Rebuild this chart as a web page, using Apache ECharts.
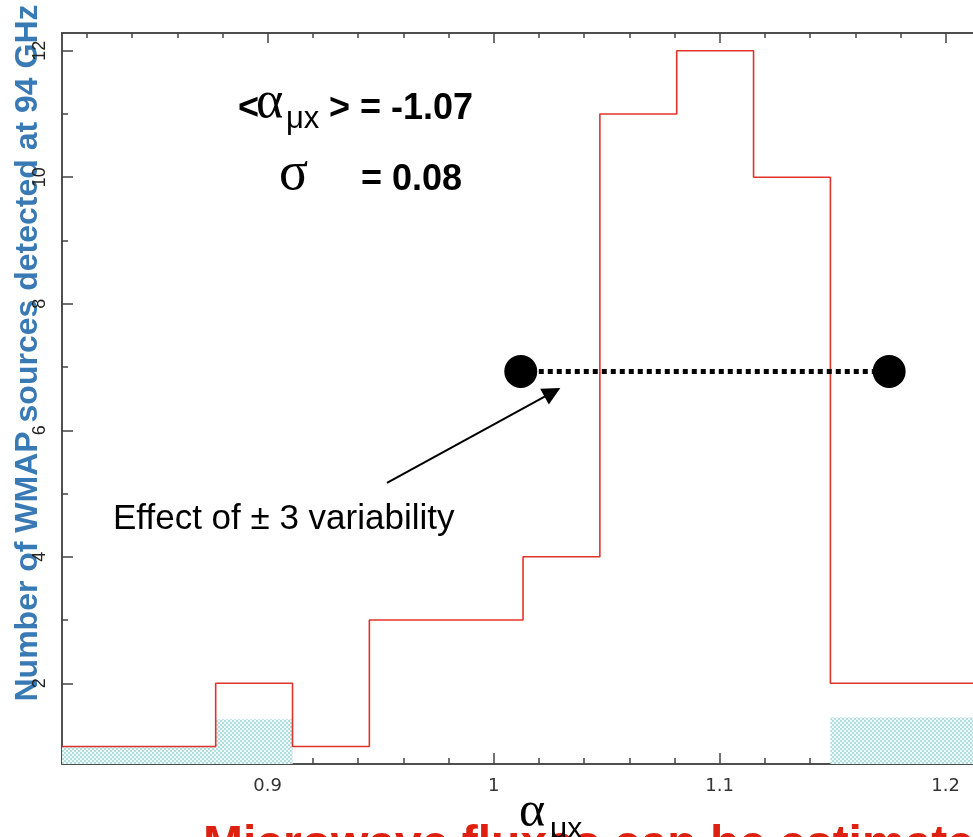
<!DOCTYPE html>
<html>
<head>
<meta charset="utf-8">
<script src="https://cdn.jsdelivr.net/npm/echarts@6/dist/echarts.min.js"></script>
<style>
html,body{margin:0;padding:0;background:#fff;}
#chart{width:973px;height:837px;}
</style>
</head>
<body>
<div id="chart"></div>
<script>
// ---- data ----
const binEdges = [0.809, 0.843, 0.877, 0.911, 0.945, 0.979, 1.013, 1.047, 1.081, 1.115, 1.149, 1.183, 1.217];
const counts   = [1, 1, 2, 1, 3, 3, 4, 11, 12, 10, 2, 2];
const hatchLo     = [0.809, 0.877, 1.149];
const hatchHi     = [0.877, 0.911, 1.217];
const hatchCounts = [1, 1.43, 1.46];
const variabilityX = [1.012, 1.175];
const variabilityY = [6.93, 6.93];
const arrowFrom = [0.9528, 5.17];
const arrowTo   = [1.026, 6.60];
const xMajorTicks = [0.9, 1.0, 1.1, 1.2];
const xMinorTicks = [0.82, 0.84, 0.86, 0.88, 0.92, 0.94, 0.96, 0.98, 1.02, 1.04, 1.06, 1.08, 1.12, 1.14, 1.16, 1.18];
const yMajorTicks = [2, 4, 6, 8, 10, 12];
const yMinorTicks = [1, 3, 5, 7, 9, 11];
const X_MIN = 0.809, X_MAX = 1.2121, Y_MIN = 0.724, Y_MAX = 12.28;
const yTitle = 'Number of WMAP sources detected at 94 GHz';
const bottomTitle = 'Microwave fluxes can be estimated';
const effectText = 'Effect of \u00b1 3 variability';

// ---- pattern ----
const pc = document.createElement('canvas');
pc.width = 4; pc.height = 4;
const g = pc.getContext('2d');
g.fillStyle = '#eef8f8'; g.fillRect(0,0,4,4);
g.fillStyle = '#b0dede'; g.fillRect(0,0,2,2); g.fillRect(2,2,2,2);
const pattern = {image: pc, repeat: 'repeat'};

const histData = binEdges.map((e,i) => [e, i < counts.length ? counts[i] : counts[counts.length-1]]);
const hatchData = hatchLo.map((lo,i) => [lo, hatchHi[i], hatchCounts[i]]);
const dotData = variabilityX.map((x,i) => [x, variabilityY[i]]);

const axisCol = '#444';
const tickFont = '"DejaVu Sans", sans-serif';
function xAx(pos, ticks, len, labels) {
  return {
    type: 'value', position: pos, min: X_MIN, max: X_MAX, gridIndex: 0,
    axisLine: {show: true, onZero: false, lineStyle: {color: axisCol, width: 1.5}},
    axisTick: {show: true, inside: true, length: len, customValues: ticks, lineStyle: {color: axisCol, width: 1.5}},
    axisLabel: labels ? {show: true, customValues: labels, margin: 13, color: '#333', fontSize: 18, fontFamily: tickFont} : {show: false},
    splitLine: {show: false}
  };
}
function yAx(ticks, len, labels) {
  return {
    type: 'value', position: 'left', min: Y_MIN, max: Y_MAX, gridIndex: 0,
    axisLine: {show: true, onZero: false, lineStyle: {color: axisCol, width: 1.5}},
    axisTick: {show: true, inside: true, length: len, customValues: ticks, lineStyle: {color: axisCol, width: 1.5}},
    axisLabel: labels ? {show: true, customValues: labels, rotate: 90, margin: 13, color: '#222', fontSize: 18, fontFamily: '"Liberation Sans Narrow", "Liberation Sans", sans-serif'} : {show: false},
    splitLine: {show: false}
  };
}
// text helper: place by approximate baseline
function txt(str, x, baseline, size, family, weight, fill, z, ratio) {
  return {type: 'text', x: x, y: baseline - ratio * size, z: z,
    style: {text: str, font: (weight ? weight + ' ' : '') + size + 'px ' + family, fill: fill, align: 'left', verticalAlign: 'middle'}};
}
const SANS = '"Liberation Sans", Arial, sans-serif';
const SERIF = '"Liberation Serif", "Times New Roman", serif';
const RS = 0.2, RR = 0.2;

const chart = echarts.init(document.getElementById('chart'), null, {renderer: 'canvas'});
chart.setOption({
  animation: false,
  backgroundColor: '#fff',
  grid: {left: 62, top: 33, right: 0, bottom: 73, containLabel: false},
  xAxis: [
    xAx('bottom', xMajorTicks, 11, xMajorTicks),
    xAx('bottom', xMinorTicks, 6, null),
    xAx('top', xMajorTicks, 10, null),
    xAx('top', xMinorTicks, 5, null)
  ],
  yAxis: [
    yAx(yMajorTicks, 11, yMajorTicks),
    yAx(yMinorTicks, 6, null)
  ],
  series: [
    {
      type: 'custom', xAxisIndex: 0, yAxisIndex: 0, z: 1,
      data: hatchData,
      encode: {x: [0,1], y: 2},
      renderItem: function(params, api) {
        const p0 = api.coord([api.value(0), api.value(2)]);
        const p1 = api.coord([api.value(1), Y_MIN]);
        return {type: 'rect', shape: {x: p0[0], y: p0[1], width: p1[0]-p0[0], height: p1[1]-p0[1]}, style: {fill: pattern}};
      }
    },
    {
      type: 'line', step: 'end', data: histData, xAxisIndex: 0, yAxisIndex: 0, z: 2,
      symbol: 'none', lineStyle: {color: '#e2332a', width: 1.6}
    },
    {
      type: 'line', data: dotData, xAxisIndex: 0, yAxisIndex: 0, z: 3,
      symbol: 'none', lineStyle: {color: '#000', width: 5, type: [5, 4]},
      markLine: {
        silent: true, symbol: ['none', 'triangle'], symbolSize: 18,
        lineStyle: {color: '#000', width: 2, type: 'solid'},
        itemStyle: {color: '#000'},
        label: {show: false},
        data: [[{coord: arrowFrom}, {coord: arrowTo}]]
      }
    },
    {
      type: 'scatter', data: dotData, xAxisIndex: 0, yAxisIndex: 0, z: 4,
      symbol: 'circle', symbolSize: 33, itemStyle: {color: '#000', opacity: 1}
    }
  ],
  graphic: [
    {type: 'text', x: 28.5, y: 353, rotation: Math.PI/2, z: -5,
     style: {text: yTitle, font: 'bold 32px ' + SANS, fill: '#3a7ab4', align: 'center', verticalAlign: 'middle'}},
    txt(bottomTitle, 203, 855, 48, SANS, 'bold', '#dd2010', 10, RS),
    txt('\u03b1', 519, 823, 50, SERIF, '', '#000', 11, RR),
    txt('\u03bcx', 550, 836, 30, SANS, '', '#000', 11, RS),
    txt('<', 238, 116, 36, SANS, 'bold', '#000', 11, RS),
    txt('\u03b1', 256, 114, 52, SERIF, '', '#000', 11, RR),
    txt('\u03bcx', 286, 126, 31, SANS, '', '#000', 11, RS),
    txt('> = -1.07', 329, 116, 36, SANS, 'bold', '#000', 11, RS),
    txt('\u03c3', 279, 186, 54, SERIF, '', '#000', 11, RR),
    txt('= 0.08', 361, 187, 36, SANS, 'bold', '#000', 11, RS),
    txt(effectText, 113, 526, 35, SANS, '', '#000', 11, RS)
  ]
});
</script>
</body>
</html>
